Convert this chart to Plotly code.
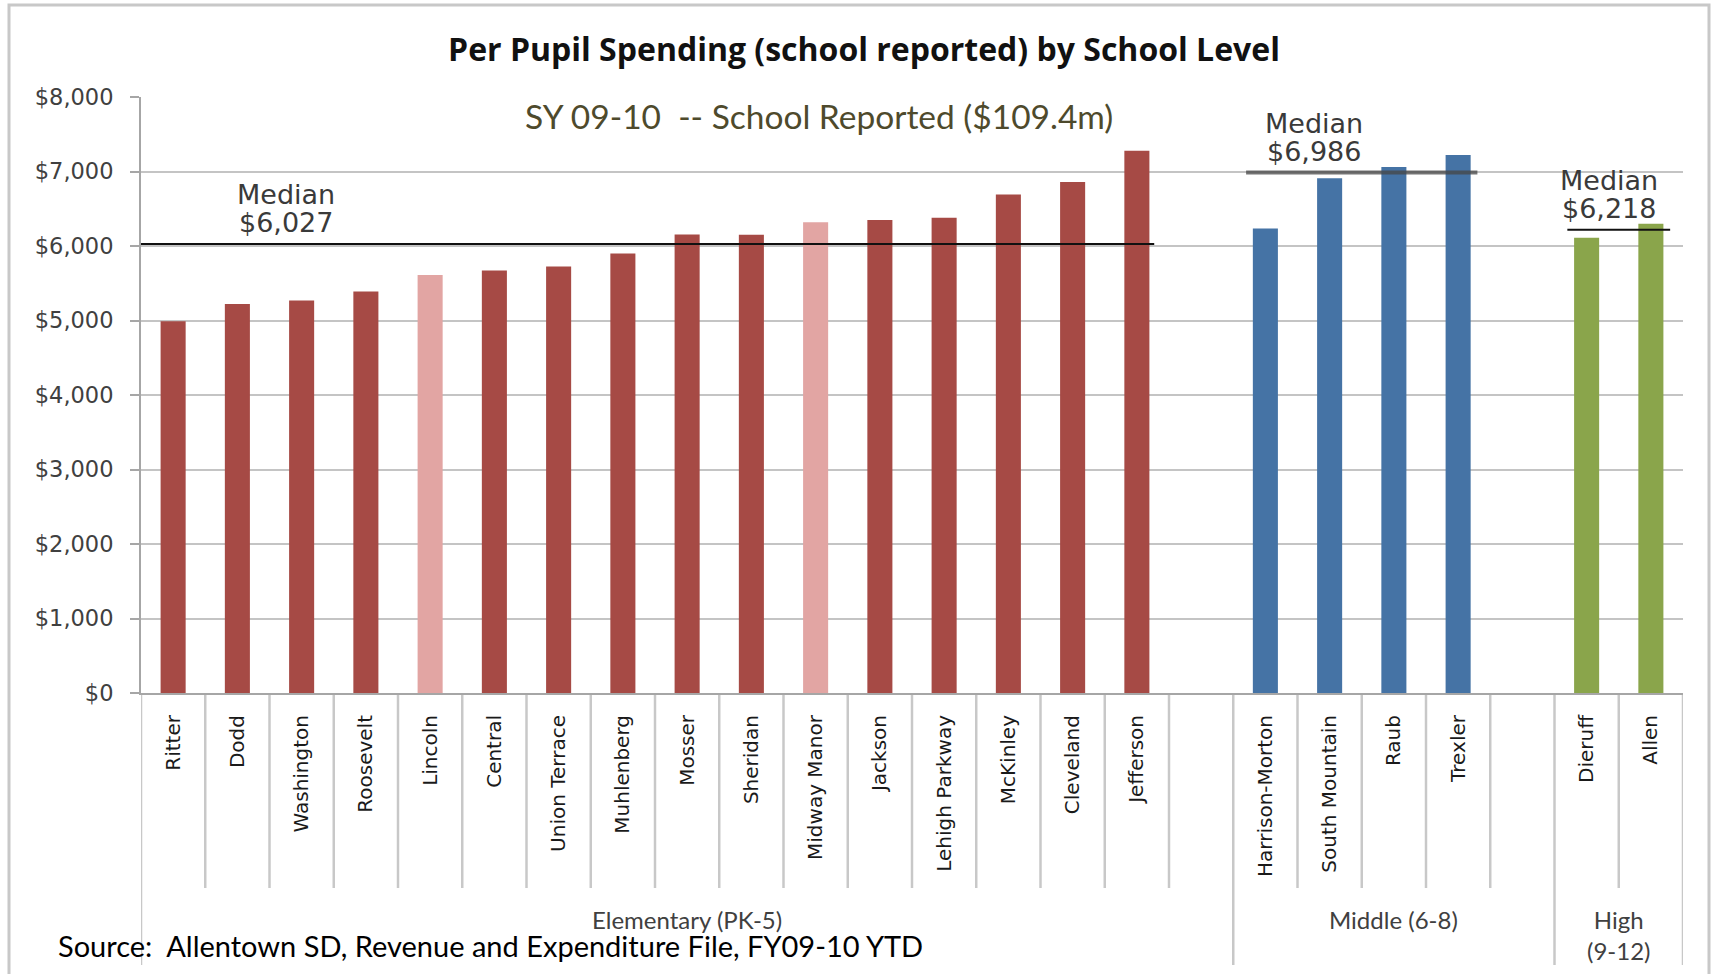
import plotly.graph_objects as go

# ---------------- data ----------------
elementary_names = ["Ritter", "Dodd", "Washington", "Roosevelt", "Lincoln", "Central",
                    "Union Terrace", "Muhlenberg", "Mosser", "Sheridan", "Midway Manor",
                    "Jackson", "Lehigh Parkway", "McKinley", "Cleveland", "Jefferson"]
elementary_values = [4990, 5220, 5270, 5390, 5610, 5670, 5725, 5900, 6154, 6150, 6320,
                     6350, 6380, 6690, 6860, 7280]
elementary_light = ["Lincoln", "Midway Manor"]

middle_names = ["Harrison-Morton", "South Mountain", "Raub", "Trexler"]
middle_values = [6235, 6910, 7062, 7220]

high_names = ["Dieruff", "Allen"]
high_values = [6110, 6300]

group_labels = ["Elementary (PK-5)", "Middle (6-8)", "High<br>(9-12)"]
medians = [6027, 6986, 6218]
median_texts = ["$6,027", "$6,986", "$6,218"]

y_ticks = [0, 1000, 2000, 3000, 4000, 5000, 6000, 7000, 8000]
y_ticktext = ["$0", "$1,000", "$2,000", "$3,000", "$4,000", "$5,000", "$6,000", "$7,000", "$8,000"]

title_text = "Per Pupil Spending (school reported) by School Level"
subtitle_text = "SY 09-10  -- School Reported ($109.4m)"
source_text = "Source:  Allentown SD, Revenue and Expenditure File, FY09-10 YTD"

# ---------------- styles ----------------
C_ELEM = "#A64A45"
C_ELEM_LIGHT = "#E2A5A3"
C_MID = "#4573A5"
C_HIGH = "#8AA54B"
GRID = "#C4C4C4"
DIV = "#C8C8C8"

W, H = 1719, 974
ML, MR, MT, MB = 141, 36, 97, 281
PW, PH = W - ML - MR, H - MT - MB


def px_x(p):
    return (p - ML) / PW


def px_y(p):
    return (H - MB - p) / PH


# categories: each group gets a trailing blank slot (except the last)
blank1, blank2 = " ", "  "
categories = elementary_names + [blank1] + middle_names + [blank2] + high_names
n = len(categories)
idx = {c: i for i, c in enumerate(categories)}

fig = go.Figure()
fig.add_trace(go.Bar(
    x=elementary_names, y=elementary_values,
    marker=dict(color=[C_ELEM_LIGHT if s in elementary_light else C_ELEM for s in elementary_names],
                line=dict(width=0)),
    showlegend=False))
fig.add_trace(go.Bar(x=middle_names, y=middle_values, marker=dict(color=C_MID, line=dict(width=0)),
                     showlegend=False))
fig.add_trace(go.Bar(x=high_names, y=high_values, marker=dict(color=C_HIGH, line=dict(width=0)),
                     showlegend=False))

shapes = []
annotations = []

# category dividers below the axis
group_bounds = [0, len(elementary_names) + 1, len(elementary_names) + 1 + len(middle_names) + 1, n]
for k in range(n + 1):
    long_ = k in group_bounds
    shapes.append(dict(type="line", xref="x", yref="paper",
                       x0=k - 0.5, x1=k - 0.5, y0=0, y1=px_y(965 if long_ else 888),
                       line=dict(color=DIV, width=2.5), layer="below"))

# median lines and labels
groups = [elementary_names, middle_names, high_names]
line_styles = [dict(color="#111111", width=2),
               dict(color="rgba(70,70,70,0.75)", width=4),
               dict(color="#111111", width=2)]
label_pos = [1.75, 17.75, 22.35]
for g, names in enumerate(groups):
    first, last = idx[names[0]], idx[names[-1]]
    x0 = -0.5 if g == 0 else first - 0.3
    x1 = last + 0.27 if g == 0 else last + 0.3
    shapes.append(dict(type="line", xref="x", yref="y", x0=x0, x1=x1,
                       y0=medians[g], y1=medians[g], line=line_styles[g]))
    annotations.append(dict(xref="x", yref="y", x=label_pos[g], y=medians[g],
                            text=median_texts[g], showarrow=False, yanchor="bottom",
                            yshift=4, font=dict(family="DejaVu Sans", size=27, color="#3A3A3A")))
    annotations.append(dict(xref="x", yref="y", x=label_pos[g], y=medians[g],
                            text="Median", showarrow=False, yanchor="bottom",
                            yshift=32, font=dict(family="DejaVu Sans", size=27, color="#3A3A3A")))
    # group labels
    gl, gr = group_bounds[g] - 0.5, group_bounds[g + 1] - 0.5
    annotations.append(dict(xref="x", yref="paper", x=(gl + gr) / 2, y=px_y(903),
                            text=group_labels[g], showarrow=False, yanchor="top",
                            font=dict(family="Lato", size=24, color="#404040")))

# outer chart frame
shapes.append(dict(type="rect", xref="paper", yref="paper",
                   x0=px_x(9), x1=px_x(1709), y0=px_y(1000), y1=px_y(5),
                   line=dict(color="#C8C8C8", width=3), layer="below"))

# subtitle and source
annotations.append(dict(xref="paper", yref="paper", x=px_x(819), y=px_y(116),
                        text=subtitle_text, showarrow=False, xanchor="center", yanchor="middle",
                        font=dict(family="Lato", size=33.5, color="#4E4A2C")))
annotations.append(dict(xref="paper", yref="paper", x=px_x(56), y=px_y(945),
                        text=source_text, showarrow=False, xanchor="left", yanchor="middle",
                        font=dict(family="Lato", size=29, color="#000000")))

fig.update_layout(
    width=W, height=H,
    margin=dict(l=ML, r=MR, t=MT, b=MB, pad=0),
    paper_bgcolor="white", plot_bgcolor="white",
    barmode="overlay", bargap=0.61,
    title=dict(text="<b>" + title_text + "</b>", xref="container", yref="container",
               x=864 / W, y=1 - 50 / H, xanchor="center", yanchor="middle",
               font=dict(family="Open Sans", size=32, color="#111111")),
    xaxis=dict(type="category", categoryorder="array", categoryarray=categories,
               range=[-0.5, n - 0.5], tickangle=-90, ticks="", showgrid=False,
               showline=True, linecolor="#A6A6A6", linewidth=2,
               tickfont=dict(family="DejaVu Sans", size=20, color="#1A1A1A"),
               ticklabelstandoff=12, fixedrange=True),
    yaxis=dict(range=[0, 8000], tickmode="array", tickvals=y_ticks, ticktext=y_ticktext,
               showgrid=True, gridcolor=GRID, gridwidth=2, zeroline=False,
               showline=True, linecolor="#A6A6A6", linewidth=2,
               ticks="outside", ticklen=9, tickcolor="#A6A6A6", tickwidth=2,
               tickfont=dict(family="DejaVu Sans", size=22.5, color="#404040"),
               ticklabelstandoff=12, fixedrange=True),
    shapes=shapes, annotations=annotations,
)

fig.write_html("out.html", config={"displayModeBar": False},
               post_script="document.body.style.margin='0';document.body.style.overflow='hidden';")
